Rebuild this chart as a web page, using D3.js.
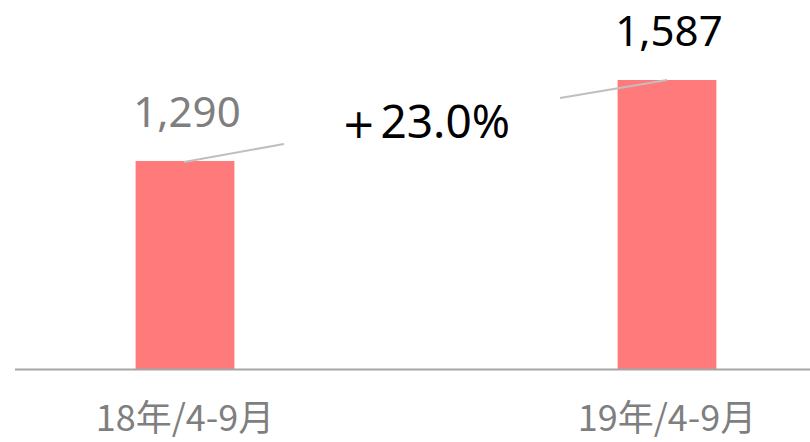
<!DOCTYPE html>
<html>
<head>
<meta charset="utf-8">
<script src="https://cdn.jsdelivr.net/npm/d3@7"></script>
<style>
  body { margin: 0; background: #fff; }
  svg { display: block; }
</style>
</head>
<body>
<div class="container"></div>
<script>
// chart data
const categories = ["18年/4-9月", "19年/4-9月"]
const values = [1290, 1587]
const valueLabels = ["1,290", "1,587"]
const growthSign = "+"
const growthLabel = "23.0%"

const w = 810
const h = 442

const svg = d3.select(".container")
  .append("svg")
  .attr("width", w)
  .attr("height", h)

const xScale = d3.scaleBand()
  .domain(categories)
  .range([-56, 908])
  .paddingInner(0.795)
  .paddingOuter(0.3975)

// axis does not start at zero in the original
const yScale = d3.scaleLinear()
  .domain([527, 1587])
  .range([369, 80])

const cx = (d) => xScale(d) + xScale.bandwidth() / 2

svg.selectAll("rect")
  .data(values)
  .enter()
  .append("rect")
  .attr("x", (d, i) => xScale(categories[i]))
  .attr("width", xScale.bandwidth())
  .attr("y", (d) => yScale(d))
  .attr("height", (d) => yScale(527) - yScale(d))
  .attr("fill", "#ff7b7b")

// baseline
svg.append("line")
  .attr("x1", 15)
  .attr("x2", w)
  .attr("y1", yScale(527) + 0.5)
  .attr("y2", yScale(527) + 0.5)
  .attr("stroke", "#a6a6a6")
  .attr("stroke-width", 2)

// category labels
const xAxis = d3.axisBottom(xScale).tickSize(0).tickPadding(0)
const gx = svg.append("g")
  .attr("transform", "translate(0, 431)")
  .call(xAxis)
gx.select(".domain").remove()
gx.selectAll("text")
  .attr("dy", 0)
  .attr("y", 0)
  .attr("fill", "#7f7f7f")
  .style("font-family", "'Noto Sans CJK JP', 'Noto Sans'")
  .style("font-size", "36px")

// value labels
svg.selectAll(".val")
  .data(values)
  .enter()
  .append("text")
  .attr("class", "val")
  .attr("x", (d, i) => cx(categories[i]) + 2)
  .attr("y", (d) => yScale(d) - 34)
  .attr("text-anchor", "middle")
  .attr("fill", (d, i) => i == 0 ? "#7f7f7f" : "#000")
  .style("font-family", "'Noto Sans'")
  .style("font-size", "42px")
  .text((d, i) => valueLabels[i])

// leader lines to the growth label
const c0 = cx(categories[0]), c1 = cx(categories[1])
const leaders = [
  [c0 - 1, yScale(values[0]) + 1, c0 + 99, yScale(values[0]) - 17],
  [c1 - 107, yScale(values[1]) + 18, c1, yScale(values[1])]
]
svg.selectAll(".leader")
  .data(leaders)
  .enter()
  .append("line")
  .attr("class", "leader")
  .attr("x1", (d) => d[0])
  .attr("y1", (d) => d[1])
  .attr("x2", (d) => d[2])
  .attr("y2", (d) => d[3])
  .attr("stroke", "#bfbfbf")
  .attr("stroke-width", 2)

const growth = svg.append("text")
  .attr("x", (c0 + c1) / 2)
  .attr("y", 138)
  .attr("text-anchor", "middle")
  .attr("fill", "#000")
  .style("font-family", "'Noto Sans'")
  .style("font-size", "46px")
growth.append("tspan")
  .style("font-family", "'DejaVu Sans'")
  .style("font-size", "40px")
  .text(growthSign)
growth.append("tspan")
  .attr("dx", 5)
  .text(growthLabel)
</script>
</body>
</html>
